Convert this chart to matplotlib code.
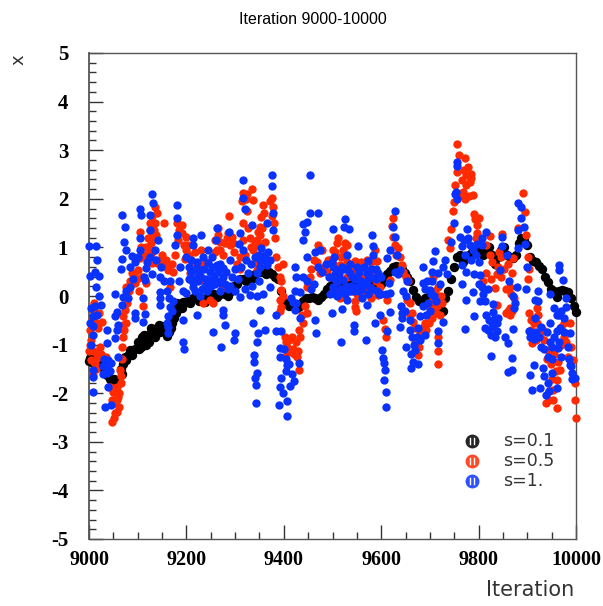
import matplotlib
matplotlib.use("Agg")
import matplotlib.pyplot as plt
from matplotlib.ticker import MultipleLocator

title = "Iteration 9000-10000"

# (iteration, x)
black_pts = [(9001,-1.33),(9008,-1.38),(9015,-1.35),(9022,-1.3),(9030,-1.5),(9036,-1.62),(9044,-1.7),(9052,-1.7),(9062,-1.72),(9068,-1.6),
(9070,-1.4),(9076,-1.32),(9082,-1.2),(9088,-1.22),(9094,-1.1),(9100,-.95),(9104,-.95),(9108,-.85),(9112,-1.0),(9118,-.9),
(9122,-.8),(9128,-.75),(9134,-.7),(9140,-.65),(9146,-.75),(9152,-.7),(9158,-.75),(9164,-.75),(9168,-.65),(9174,-.45),
(9178,-.35),(9182,-.2),(9186,-.25),(9190,-.25),(9196,-.15),(9202,-.1),(9208,-.15),(9214,-.05),(9220,-.05),(9226,-.1),
(9232,-.05),(9238,-.12),(9244,-.05),(9250,.05),(9256,.05),(9262,-.02),(9268,.05),(9274,.08),(9280,.05),(9286,.0),
(9292,.1),(9298,.2),(9304,.25),(9310,.35),(9316,.35),(9322,.3),(9328,.32),(9334,.35),(9340,.45),(9346,.5),
(9352,.5),(9358,.5),(9364,.45),(9370,.5),(9376,.45),(9382,.4),(9388,.35),(9394,.1),(9398,-.1),(9404,-.15),
(9410,-.2),(9416,-.15),(9422,-.22),(9428,-.25),(9434,-.2),(9440,-.1),(9446,-.05),(9452,-.05),(9458,-.02),(9464,-.05),
(9470,-.08),(9476,-.02),(9482,.05),(9488,.15),(9494,.2),(9500,.25),(9506,.18),(9512,.2),(9518,.22),(9524,.3),
(9530,.32),(9536,.25),(9542,.27),(9548,.25),(9554,.3),(9560,.35),(9566,.3),(9572,.28),(9578,.3),(9584,.28),
(9590,.25),(9596,.2),(9600,.25),(9606,.3),(9612,.45),(9618,.52),(9624,.6),(9630,.62),(9636,.6),(9642,.55),
(9648,.48),(9654,.4),(9660,.3),(9666,.12),(9672,-.02),(9678,-.1),(9684,-.1),(9690,-.05),(9696,-.02),(9702,-.08),
(9708,-.15),(9714,-.2),(9720,-.3),(9726,-.3),(9732,-.05),(9738,.1),(9744,.35),(9750,.6),(9756,.8),(9762,.85),
(9768,.7),(9774,.78),(9780,.85),(9786,.9),(9792,.92),(9798,.98),(9804,.9),(9810,.85),(9816,.95),(9822,1.0),
(9828,.85),(9834,.65),(9840,.8),(9846,.95),(9852,1.0),(9858,.85),(9864,.8),(9870,.78),(9876,.85),(9882,1.1),
(9888,1.2),(9894,1.15),(9900,1.05),(9906,.8),(9912,.72),(9918,.7),(9924,.62),(9930,.55),(9936,.4),(9942,.28),
(9948,.15),(9954,.1),(9960,-.02),(9966,.1),(9972,.12),(9978,.1),(9984,.08),(9990,-.05),(9996,-.2),(10000,-.32),
(9102,-1.1),(9106,-1.05),(9112,-.8),(9118,-1.0),(9124,-.95),(9128,-.65),(9136,-.85),(9144,-.6),(9003,-1.28),(9025,-1.4),
(9048,-1.76),(9058,-1.78),(9065,-1.5),(9073,-1.25),(9085,-1.12),(9150,-.62),(9160,-.82),(9170,-.55),(9180,-.15),(9192,-.12)]

red_pts = [(9009,-.29),(9012,-.53),(9026,-.53),(9002,-.7),(9009,-1.14),(9023,-1.04),(9005,-1.32),(9016,-1.28),(9035,-1.25),(9009,-1.62),
(9001,-1.14),(9043,-1.87),(9050,-1.97),(9057,-1.87),(9060,-2.07),(9053,-2.21),(9062,-2.28),(9053,-2.41),(9048,-2.59),(9058,-2.38),
(9064,-1.52),(9065,-1.8),(9067,-1.04),(9070,-.6),(9070,-.42),(9074,-.29),(9077,-.01),(9077,.19),(9088,.47),(9094,.26),
(9101,.53),(9105,1.32),(9105,.78),(9108,.4),(9118,.26),(9111,-.21),(9122,.98),(9129,1.26),(9125,1.5),(9135,1.84),
(9139,1.7),(9135,1.5),(9153,1.5),(9132,1.19),(9129,.67),(9139,.67),(9159,.74),(9163,.54),(9173,.5),(9166,.19),
(9180,1.5),(9190,1.46),(9183,1.15),(9200,1.22),(9200,.95),(9197,.77),(9217,.91),(9231,.95),(9265,1.26),(9269,1.12),
(9262,.95),(9276,.84),(9287,1.65),(9286,1.29),(9293,1.22),(9289,1.05),(9310,.81),(9317,2.11),(9334,2.2),(9337,1.98),
(9317,1.5),(9327,1.39),(9317,1.15),(9341,1.12),(9337,.95),(9341,.67),(9344,.54),(9358,1.87),(9354,1.63),(9351,1.43),
(9347,1.32),(9361,1.12),(9375,2.01),(9377,1.84),(9380,1.5),(9385,.8),(9392,.4),(9395,.12),(9392,-.08),(9395,-.22),
(9447,-.36),(9440,-.56),(9433,-.84),(9429,-1.14),(9402,-.84),(9406,-1.04),(9416,-.84),(9402,-1.25),(9431,-1.52),(9471,1.05),
(9453,.4),(9447,.19),(9474,.47),(9241,.19),(9248,-.08),(9255,-.15),(9235,-.15),(9276,.19),(9207,.47),(9221,.5),
(9228,.33),(9756,3.13),(9760,2.9),(9772,2.83),(9779,2.66),(9785,2.52),(9785,2.42),(9775,2.28),(9765,2.39),(9755,2.56),
(9751,2.28),(9788,2.08),(9772,1.99),(9749,1.94),(9747,1.75),(9744,1.37),(9738,1.15),(9741,.98),(9790,1.68),(9796,1.46),
(9796,1.29),(9823,1.23),(9849,1.28),(9823,.84),(9847,.81),(9871,.78),(9816,.47),(9847,.4),(9833,.16),(9868,.47),
(9864,.19),(9837,-.18),(9864,-.25),(9864,-.39),(9891,2.11),(9895,1.73),(9881,1.39),(9898,1.26),(9902,.81),(9902,.36),
(9904,-.36),(9919,-.25),(9912,-.77),(9909,-.97),(9932,-.7),(9919,-.56),(9943,-1.11),(9967,-1.52),(9960,-1.73),(9953,-1.93),
(9939,-2.21),(9960,-2.31),(9953,-2.14),(9998,-2.14),(10000,-2.5),(9984,-1.25),(9994,-1.32),(9998,-1.8),(9987,-.56),(9970,-.63),
(9512,1.19),(9529,1.05),(9522,.95),(9502,.95),(9587,.95),(9591,.71),(9546,.71),(9563,.6),(9515,.64),(9495,.4),
(9597,.19),(9577,.06),(9546,-.22),(9594,.02),(9604,-.49),(9608,-.67),(9610,-.85),(9611,-.08),(9618,.33),(9625,1.6),
(9625,1.22),(9635,.98),(9642,.64),(9656,.3),(9652,-.08),(9659,-.39),(9666,-.53),(9680,-.77),(9676,-1.21),(9669,-.97),
(9717,-1.14),(9717,-1.39),(9717,-.84),(9693,-.7),(9700,-.42),(9717,.19),(9724,-.15),(9707,.4),
(9005,-.9),(9002,-1.0),(9015,-1.15),(9025,-1.2),(9012,-1.4),(9018,-.65),(9020,-.35),(9010,-.15),(9006,-.5),(9015,-1.5),
(9055,-2.0),(9052,-1.9),(9048,-2.15),(9058,-2.15),(9052,-2.5),(9062,-2.0),(9066,-1.65),(9068,-1.3),(9070,-.85),(9072,-.7),
(9075,-.55),(9078,-.15),(9082,.1),(9085,.3),(9092,.45),(9098,.35),(9103,.1),(9107,1.0),(9112,.85),(9118,1.0),
(9122,1.2),(9126,1.35),(9130,1.65),(9133,1.35),(9137,1.25),(9128,1.1),(9125,.95),(9130,.9),(9135,.75),(9145,.7),
(9150,.85),(9155,.65),(9160,.6),(9170,.65),(9176,.85),(9185,1.35),(9190,1.3),(9195,1.05),(9203,1.05),(9205,.85),
(9210,.75),(9212,.6),(9225,.65),(9240,.7),(9258,.9),(9258,1.15),(9264,1.4),(9270,.95),(9280,1.1),(9283,1.2),
(9295,1.1),(9298,.9),(9303,.65),(9310,.55),(9320,.85),(9325,2.1),(9322,2.0),(9315,1.95),(9325,1.75),(9330,1.2),
(9332,1.0),(9345,.8),(9350,1.05),(9352,1.25),(9345,1.15),(9355,1.4),(9360,1.7),(9372,1.95),(9376,1.65),(9382,1.2),
(9388,.6),(9394,.3),(9398,.0),(9392,-.3),(9398,.65),(9404,-.95),(9410,-.9),(9418,-1.1),(9426,-.95),(9432,-.7),
(9438,-.4),(9444,-.2),(9410,-1.15),(9403,-1.1),(9420,-1.2),(9428,-1.25),(9450,.2),(9455,.55),(9462,.75),(9468,.7),
(9478,.95),(9482,.6),(9490,.75),(9488,.5),(9495,.75),(9500,.65),(9505,.9),(9510,1.1),(9518,.8),(9525,1.1),
(9530,.7),(9538,.55),(9542,.45),(9545,.55),(9552,.35),(9558,.7),(9565,.4),(9570,.75),(9580,.7),(9585,.45),
(9590,.3),(9510,.3),(9520,.15),(9530,.4),(9540,.1),(9550,.05),(9565,.1),(9580,-.05),(9500,.1),(9515,-.05),
(9546,-.1),(9548,-.3),(9622,1.45),(9628,1.05),(9630,.85),(9638,.8),(9645,.5),(9650,.4),(9660,-.15),(9664,-.35),
(9670,-.65),(9675,-.9),(9678,-1.05),(9684,-.65),(9690,-.55),(9700,-.25),(9705,-.1),(9710,.1),(9714,-.2),(9722,.0),
(9698,-.55),(9705,-.45),(9712,-.35),(9720,-.4),(9770,2.6),(9775,2.5),(9782,2.35),(9768,2.15),(9760,2.05),(9780,2.05),
(9792,1.58),(9800,1.6),(9795,1.2),(9805,1.1),(9815,1.05),(9828,.7),(9840,.6),(9852,.55),(9860,.65),(9856,.15),
(9866,.05),(9872,-.05),(9860,-.3),(9868,-.3),(9856,-.35),(9842,.9),(9838,.45),(9825,.35),(9810,.3),(9904,.55),
(9908,-.5),(9914,-.55),(9922,-.4),(9908,-.7),(9918,-.9),(9926,-.8),(9935,-.9),(9940,-1.3),(9948,-1.4),(9955,-1.2),
(9963,-1.35),(9958,-1.55),(9950,-1.7),(9945,-1.95),(9945,-2.15),(9970,-1.0),(9975,-.85),(9980,-.95),(9975,-.55),(9990,-1.05)]

blue_pts = [(9001,1.03),(9014,1.03),(9017,.75),(9002,.41),(9021,.42),(9012,.5),(9014,.18),(9021,-.01),(9024,-.19),(9009,-.42),
(9002,-.56),(9016,-.39),(9009,-.8),(9005,-1.01),(9036,-.7),(9036,-.97),(9009,-1.52),(9008,-1.66),(9009,-1.97),(9029,-1.45),
(9040,-1.32),(9046,-1.38),(9036,-1.59),(9040,-1.87),(9033,-2.28),(9046,-2.24),(9053,.04),(9067,-.19),(9053,-.42),(9057,-.7),
(9053,-.87),(9060,-1.25),(9067,1.67),(9074,1.43),(9072,1.12),(9076,.95),(9067,.77),(9088,.82),(9065,.55),(9091,.36),
(9084,.19),(9081,-.05),(9094,-.36),(9094,-.46),(9111,-.05),(9115,-.37),(9111,-.53),(9105,1.8),(9106,1.67),(9105,1.19),
(9105,.95),(9129,2.1),(9132,1.91),(9125,1.67),(9125,1.36),(9142,1.15),(9135,.95),(9125,.81),(9118,.57),(9115,.33),
(9146,.09),(9146,-.05),(9146,-.19),(9166,-.22),(9163,-.42),(9163,-.63),(9163,-.77),(9180,1.87),(9181,1.6),(9180,1.26),
(9176,1.05),(9200,.81),(9187,.6),(9166,.3),(9146,.4),(9214,1.19),(9214,1.05),(9231,1.26),(9221,.57),(9231,.4),
(9214,.19),(9200,.06),(9228,-.01),(9194,-.94),(9195,-1.09),(9194,-.49),(9221,-.39),(9255,-.75),(9272,-1.04),(9280,-.6),
(9300,-.77),(9298,-.91),(9263,1.39),(9261,1.15),(9263,.64),(9289,.74),(9293,.4),(9276,.57),(9245,.95),(9245,.67),
(9248,.33),(9269,.26),(9276,-.29),(9276,-.39),(9287,1.32),(9317,2.39),(9317,2.01),(9320,1.8),(9310,1.29),(9334,1.46),
(9317,.95),(9308,1.08),(9327,.47),(9365,1.51),(9375,2.49),(9375,2.27),(9378,1.7),(9378,1.36),(9354,.98),(9368,.91),
(9351,.74),(9365,.64),(9344,.47),(9371,.19),(9330,.02),(9344,-.01),(9351,-.29),(9361,-.69),(9337,-.55),(9347,-.77),
(9344,-.94),(9339,-1.21),(9339,-1.35),(9344,-1.59),(9341,-1.69),(9343,-1.83),(9343,-2.21),(9385,-.39),(9385,-.71),(9395,-.73),
(9453,2.49),(9453,1.7),(9471,1.71),(9440,1.49),(9447,1.53),(9443,1.32),(9440,1.15),(9447,.81),(9464,.91),(9474,.95),
(9423,.59),(9426,.4),(9433,.09),(9426,-.15),(9423,-.29),(9433,-.46),(9464,-.49),(9466,-.77),(9392,-1.08),(9392,-1.25),
(9406,-1.42),(9431,-1.38),(9395,-1.69),(9392,-1.87),(9399,-2.0),(9406,-2.17),(9390,-2.24),(9406,-2.47),
(9210,.5),(9216,.35),(9224,.3),(9236,.55),(9240,.35),(9252,.6),(9256,.42),(9264,.5),(9272,.3),(9282,.5),
(9206,.35),(9238,.2),(9250,.2),(9280,.25),(9300,.55),(9305,.35),(9312,.6),(9322,.75),(9332,.65),(9350,.85),
(9628,1.74),(9625,1.43),(9628,1.22),(9618,.95),(9632,.84),(9611,.78),(9526,1.58),(9524,1.43),(9534,1.37),(9502,1.37),
(9582,1.26),(9584,1.03),(9553,1.02),(9584,.84),(9529,.84),(9573,.71),(9550,.6),(9509,.54),(9594,.47),(9638,.54),
(9652,.3),(9615,.26),(9570,.47),(9536,.47),(9522,.33),(9502,.19),(9550,.19),(9577,.19),(9509,-.01),(9530,-.08),
(9570,-.18),(9519,-.27),(9498,-.36),(9597,-.39),(9587,-.56),(9544,-.6),(9544,-.73),(9569,-.9),(9517,-.95),(9618,.06),
(9618,-.32),(9601,-1.11),(9603,-1.28),(9606,-1.38),(9608,-1.52),(9606,-1.73),(9609,-1.97),(9609,-2.28),(9611,-.73),(9642,-.36),
(9642,-.46),(9638,-.63),(9659,-.7),(9651,-1.04),(9669,-1.11),(9666,-1.35),(9662,-1.49),(9676,-1.39),(9673,-.84),(9690,-.8),
(9680,-.42),(9686,.26),(9686,.6),(9707,.71),(9710,.93),(9731,.74),(9717,.47),(9700,.12),(9697,-.15),(9727,-.53),
(9716,-.73),(9716,-.97),(9755,2.76),(9753,2.15),(9749,1.5),(9744,1.12),(9762,1.22),(9777,1.38),(9779,1.19),(9765,1.02),
(9796,1.08),(9816,1.32),(9806,1.19),(9765,.64),(9775,.5),(9765,.24),(9774,-.08),(9791,-.41),(9773,-.68),(9789,.09),
(9806,.19),(9802,-.1),(9813,-.1),(9803,.43),(9830,-.16),(9844,.54),(9849,1.22),(9849,1.02),(9830,-.32),(9840,-.46),
(9813,-.65),(9830,-.63),(9837,-.73),(9826,-1.23),(9855,-.84),(9861,-.97),(9871,-.67),(9868,-1.28),(9861,-1.56),(9868,-1.52),
(9905,-1.63),(9913,-1.42),(9933,-1.49),(9909,-1.93),(9926,-1.9),(9939,-2.04),(9960,-1.9),(9950,-1.59),(9943,-1.8),(9874,-.15),
(9878,.19),(9898,.14),(9900,.59),(9895,1.08),(9881,.98),(9881,1.36),(9893,1.41),(9888,1.61),(9888,1.84),(9881,1.92),
(9922,.1),(9915,-.08),(9922,-.1),(9965,.64),(9965,.54),(9974,.32),(9946,.04),(9979,-.05),(9979,-.22),(9960,-.39),
(9946,-.56),(9915,-.46),(9929,-.63),(9904,-.73),(9913,-.89),(9929,-1.04),(9946,-.94),(9960,-.73),(9963,-1.08),(9984,-1.04),
(9987,-.77),(9943,-1.25),(9970,-1.25),(9987,-1.42),(9991,-1.59),(9998,-1.69),
(9500,.6),(9506,.35),(9514,.45),(9520,.6),(9528,.2),(9535,.65),(9540,.4),(9546,.35),(9555,.5),(9560,.15),
(9564,.6),(9575,.4),(9580,.55),(9590,.35),(9600,.05),(9610,.05),(9495,.05),(9505,.05),(9525,.05),(9560,-.05),
(9004,-.25),(9012,-.2),(9008,-.62),(9030,-1.3),(9034,-1.45),(9040,-1.5),(9028,-1.6),(9044,-1.55),(9060,-.6),(9058,-.32),
(9070,-.02),(9075,.1),(9085,.6),(9095,.7),(9100,.8),(9112,.4),(9120,.7),(9130,.45),(9138,.75),(9148,.6),
(9155,.3),(9160,.1),(9165,-.05),(9160,-.55),(9170,-.3),(9172,-.1),(9185,.3),(9192,.1),(9205,.6),(9212,.3),
(9218,.1),(9226,.45),(9232,.15),(9242,.1),(9248,.5),(9258,.25),(9262,.3),(9268,.1),(9275,.4),(9285,.15),
(9210,.75),(9222,.7),(9235,.8),(9252,.8),(9268,.65),(9290,.2),(9300,.1),(9310,-.02),(9320,.15),(9335,.2),
(9350,.3),(9358,.05),(9362,.85),(9372,.75),(9340,.8),(9352,.6),(9358,.75),(9414,-.05),(9418,-.12),(9422,.1),
(9416,-1.6),(9420,-1.75),(9404,-1.55),(9412,-1.85),(9400,-1.1),(9404,-1.3),(9410,-1.4),(9440,.4),(9448,.3),(9455,.15),
(9462,.25),(9470,.6),(9478,.5),(9486,.65),(9492,.4),(9498,.7),(9504,.8),(9512,.3),(9518,.1),(9524,.55),
(9530,.55),(9538,.2),(9545,.1),(9550,.4),(9558,.3),(9565,.25),(9572,.05),(9582,.15),(9592,.1),(9600,.4),
(9505,.45),(9515,.15),(9535,.1),(9555,.1),(9570,.3),(9580,.4),(9590,.55),(9595,.05),(9628,.5),(9634,.45),
(9645,.1),(9650,.0),(9640,-.2),(9648,-.3),(9660,-.5),(9664,-.85),(9668,-1.0),(9675,-.65),(9680,-.9),(9662,-1.2),
(9690,.15),(9695,.3),(9702,.05),(9705,.3),(9708,.0),(9712,-.1),(9700,-.3),(9692,-.4),(9686,-.2),(9704,.5),
(9720,.25),(9726,.6),(9735,.45),(9755,2.68),(9752,2.1),(9756,2.0),(9770,1.15),(9782,1.05),(9788,.95),(9795,.85),
(9785,.75),(9800,.7),(9808,1.05),(9772,.85),(9790,.45),(9800,.25),(9810,.05),(9820,.15),(9815,-.4),(9822,-.5),
(9828,-.55),(9834,-.45),(9820,-.7),(9825,-.8),(9833,-.85),(9838,-.55),(9862,.3),(9870,.0),(9872,-.25),(9858,.85),
(9905,-.85),(9918,-.75),(9925,-.85),(9935,-1.1),(9940,-.75),(9950,-1.05),(9955,-.85),(9965,-.95),(9975,-.75),(9985,-1.3),
(9990,-1.45),(9992,-1.7),(9935,-1.65),(9945,-1.95),(9950,-1.3),(9968,-.65),(9975,-.45),(9970,-.3),(9955,-.25),(9965,-.4)]

labels = ["s=0.1", "s=0.5", "s=1."]
colors = ["black", "#ff2a00", "#0a32ff"]

W, H = 603, 606
fig = plt.figure(figsize=(W/100, H/100), dpi=100)
ax = fig.add_axes([89/W, 1-539/H, 487/W, 486/H])

for pts, c, sz in zip([black_pts, red_pts, blue_pts], colors, [46, 36, 36]):
	xs, ys = zip(*pts)
	ax.scatter(xs, ys, s=sz, c=c, linewidths=0, clip_on=False, zorder=3)

ax.set_xlim(9000, 10000)
ax.set_ylim(-5, 5)
ax.xaxis.set_major_locator(MultipleLocator(200))
ax.xaxis.set_minor_locator(MultipleLocator(50))
ax.yaxis.set_major_locator(MultipleLocator(1))
ax.yaxis.set_minor_locator(MultipleLocator(0.2))
ax.tick_params(which="major", direction="in", length=10, width=1, color="#333333")
ax.tick_params(which="minor", direction="in", length=5, width=1, color="#333333")
ax.tick_params(axis="x", which="major", pad=8)
ax.tick_params(axis="y", which="major", pad=15)
for s in ax.spines.values():
	s.set_color("#555555")
	s.set_linewidth(1)
ax.spines["left"].set_linewidth(1.3)

ax.set_xticklabels([str(int(v)) for v in ax.get_xticks()], family="Liberation Serif", weight="bold", fontsize=14.5)
ax.set_yticklabels([str(int(v)).replace("\u2212", "-") for v in ax.get_yticks()], family="Liberation Serif", weight="bold", fontsize=15)

fig.text(313/W, 1-19/H, title, family="Liberation Sans", fontsize=11.5, ha="center", va="center")
fig.text(574/W, 1-590/H, "Iteration", family="DejaVu Sans", fontsize=15, color="#333333", ha="right", va="center")
fig.text(18/W, 1-60/H, "x", family="DejaVu Sans", fontsize=13, color="#333333", rotation=90, ha="center", va="center")

# hand made key, bars in the dots like the original
for i in range(3):
	ypx = 441 + 20*i
	fig.add_artist(plt.Line2D([472/W], [1-ypx/H], marker="o", ms=10, mfc=colors[i], mec="none", alpha=0.85))
	for dx in (-1.5, 1.5):
		fig.add_artist(plt.Line2D([(472+dx)/W]*2, [1-(ypx-3)/H, 1-(ypx+3)/H], color="white", lw=1))
	fig.text(503/W, 1-ypx/H, labels[i], family="DejaVu Sans", fontsize=12.5, color="#333333", va="center")

plt.savefig("out.png", dpi=100)
